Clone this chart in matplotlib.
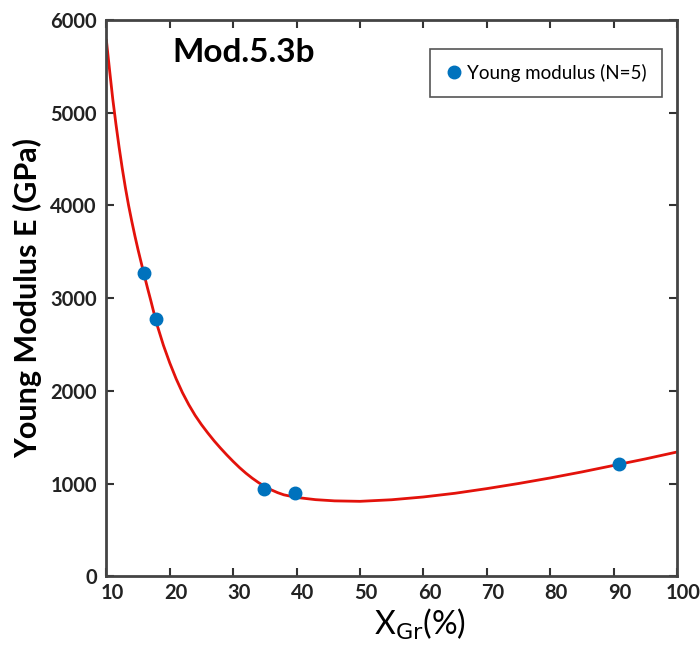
import matplotlib.pyplot as plt
import matplotlib.transforms as mtransforms

# fitted curve
curve_x = [10, 10.5, 11, 11.5, 12, 12.5, 13, 13.5, 14, 14.5, 15, 15.5, 16, 16.5, 17, 17.5, 18,
           19, 20, 21, 22, 23, 24, 25, 26, 27, 28, 29, 30, 31, 32, 33, 34, 35, 36, 37, 38, 40,
           43, 46, 50, 55, 60, 65, 70, 75, 80, 85, 90, 95, 100]
curve_e = [5780, 5460, 5150, 4880, 4630, 4400, 4190, 4000, 3830, 3670, 3520, 3380, 3240, 3105,
           2975, 2840, 2710, 2490, 2300, 2130, 1980, 1850, 1735, 1635, 1545, 1460, 1382, 1308,
           1238, 1172, 1112, 1058, 1010, 968, 932, 902, 878, 850, 826, 813, 808, 825, 855, 895,
           945, 1000, 1060, 1125, 1195, 1265, 1340]

# measured points
x_gr = [15.9, 17.8, 34.8, 39.7, 90.8]
young = [3270, 2775, 940, 895, 1210]

x_ticks = [10, 20, 30, 40, 50, 60, 70, 80, 90, 100]
y_ticks = [0, 1000, 2000, 3000, 4000, 5000, 6000]

plt.rcParams['font.family'] = ['Lato', 'DejaVu Sans']

fig = plt.figure(figsize=(7, 6.46), dpi=100)
ax = fig.add_axes([0.152, 0.108, 0.815, 0.861])

ax.plot(curve_x, curve_e, color='#e3120b', lw=2, zorder=2)
ax.plot(x_gr, young, 'o', color='#0072BD', ms=9, zorder=3, label='Young modulus (N=5)')

ax.set_xlim(10, 100)
ax.set_ylim(0, 6000)
ax.set_xticks(x_ticks)
ax.set_yticks(y_ticks)
ax.tick_params(direction='in', length=6, width=1.5, colors='#333333', labelsize=14.5,
               top=True, right=True, pad=5)
ax.tick_params(axis='y', pad=7)
shift = mtransforms.ScaledTranslation(0.06, 0, fig.dpi_scale_trans)
for lab in ax.get_xticklabels():
    lab.set_transform(lab.get_transform() + shift)
for lab in ax.get_xticklabels() + ax.get_yticklabels():
    lab.set_fontweight('bold')
    lab.set_color('#222222')
for s in ax.spines.values():
    s.set_linewidth(2)
    s.set_color('#444444')

ax.set_xlabel('X$_{\\mathrm{Gr}}$(%)', fontsize=23)
ax.xaxis.set_label_coords(0.55, -0.055)
ax.set_ylabel('Young Modulus E (GPa)', fontsize=22, fontweight='bold', labelpad=6)
ax.text(0.116, 0.942, 'Mod.5.3b', transform=ax.transAxes, fontsize=24, fontweight='bold',
        va='center', ha='left')

leg = ax.legend(loc='upper right', bbox_to_anchor=(0.99, 0.965), fontsize=13.5, handletextpad=0.2,
                handlelength=1.0, fancybox=False, framealpha=1, borderpad=0.8)
leg.get_frame().set_edgecolor('#555555')
leg.get_frame().set_linewidth(1.2)

fig.savefig('out.png', dpi=100)
